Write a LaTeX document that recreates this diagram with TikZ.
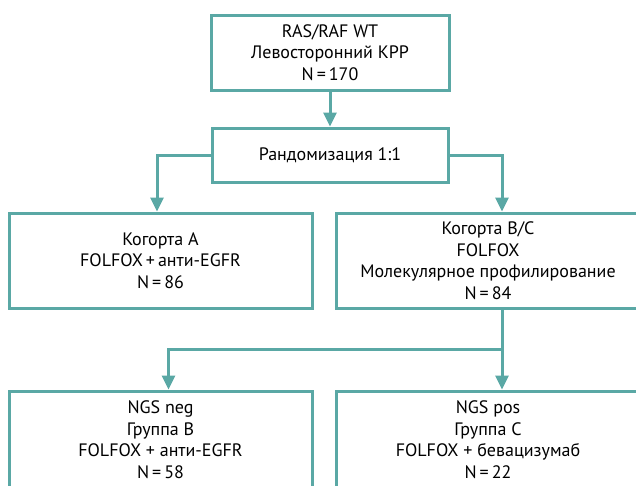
\documentclass[tikz,border=0pt]{standalone}
\usepackage{fontspec}
\setmainfont{PT Sans}
\usetikzlibrary{arrows.meta}
\definecolor{flowteal}{HTML}{5AA8A5}

\begin{document}
\begin{tikzpicture}[x=1pt,y=-1pt,
  box/.style={draw=flowteal,line width=3pt,align=center,inner sep=0pt,font=\fontsize{18}{21.6}\selectfont},
  link/.style={draw=flowteal,line width=3pt,-{Triangle[length=14pt,width=13pt]}}]
\useasboundingbox (0,0) rectangle (636,485);
\node[box,minimum width=238pt,minimum height=75pt] (total) at (330,52.5) {RAS/RAF WT\\Левосторонний КРР\\N\,=\,170};
\node[box,minimum width=236pt,minimum height=54pt] (rand) at (330,155) {Рандомизация 1:1};
\node[box,minimum width=303pt,minimum height=95pt] (armA) at (160.5,260.5) {Когорта A\\FOLFOX\,+\,анти-EGFR\\N\,=\,86};
\node[box,minimum width=304pt,minimum height=95pt] (armBC) at (488,260.5) {Когорта B/C\\FOLFOX\\Молекулярное профилирование\\N\,=\,84};
\node[box,minimum width=303pt,minimum height=97pt] (groupB) at (160.5,439.5) {NGS neg\\Группа B\\FOLFOX + анти-EGFR\\N\,=\,58};
\node[box,minimum width=304pt,minimum height=97pt] (groupC) at (488,439.5) {NGS pos\\Группа C\\FOLFOX + бевацизумаб\\N\,=\,22};
\draw[link] (total) -- (rand);
\draw[link] (rand.west) -| ([xshift=-3.5pt]armA.north);
\draw[link] (rand.east) -| ([xshift=14pt]armBC.north);
\coordinate (split) at ([xshift=14pt]armBC.south);
\coordinate (fork) at ([yshift=-40pt]split);
\draw[link] (split) -- (split |- groupC.north);
\draw[link] (fork) -| ([xshift=8pt]groupB.north);
\end{tikzpicture}
\end{document}
